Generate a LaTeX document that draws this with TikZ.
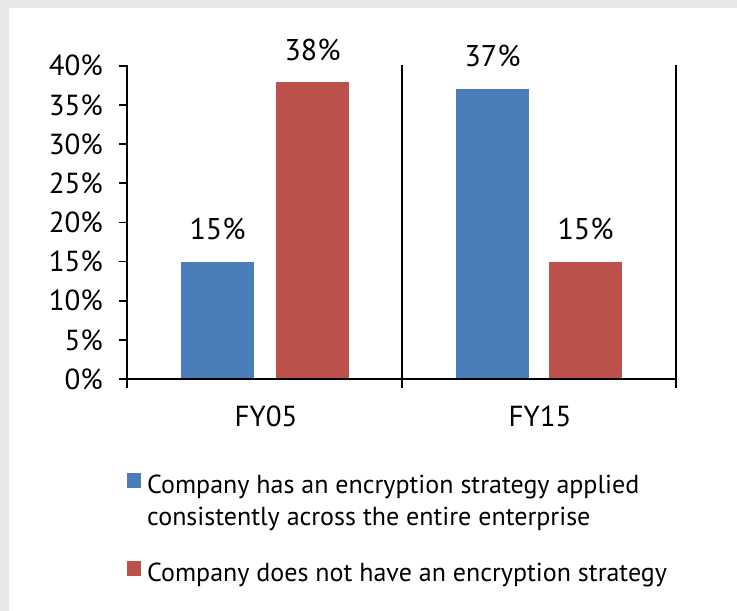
\documentclass[tikz,border=0pt]{standalone}
\usepackage{fontspec}
\setmainfont{PT Sans}
\definecolor{bgGray}{HTML}{E6E7E8}
\definecolor{barBlue}{HTML}{4A7EBB}
\definecolor{barRed}{HTML}{BC514B}
\begin{document}
\begin{tikzpicture}[x=1pt,y=-1pt,
  axisline/.style={line width=1.6pt,black},
  ticklbl/.style={anchor=east,inner sep=0pt,font=\fontsize{29}{31}\selectfont},
  vallbl/.style={anchor=center,inner sep=0pt,font=\fontsize{30}{32}\selectfont},
  catlbl/.style={anchor=center,inner sep=0pt,font=\fontsize{29}{31}\selectfont},
  legtxt/.style={anchor=base west,inner sep=0pt,align=left,font=\fontsize{26}{32}\selectfont},
  bluebar/.style={fill=barBlue},
  redbar/.style={fill=barRed}]
\useasboundingbox (0,0) rectangle (737,611);
\fill[bgGray] (0,0) rectangle (737,611);
\fill[white] (9,8) rectangle (737,611);
% bars (baseline y=379, 1% = 7.83)
\fill[bluebar] (181,379) rectangle (254,261.5);
\fill[redbar]  (276,379) rectangle (349,81.5);
\fill[bluebar] (456,379) rectangle (529,89.3);
\fill[redbar]  (549,379) rectangle (622,261.5);
% axes
\coordinate (top) at (127,65);
\coordinate (ob) at (127,388);
\coordinate (xl) at (122,379);
\coordinate (xr) at (676,379);
\coordinate (mid) at (402,388);
\coordinate (midtop) at (402,65);
\coordinate (rgt) at (676,388);
\coordinate (rgttop) at (676,65);
\draw[axisline] (top) -- (ob);
\draw[axisline] (xl) -- (xr);
\draw[axisline] (midtop) -- (mid);
\draw[axisline] (rgttop) -- (rgt);
\foreach \v [count=\i from 0] in {0,5,...,40}{
  \pgfmathsetmacro{\yy}{379-\i*39.15}
  \draw[axisline] (119,\yy) -- (127,\yy);
  \node[ticklbl] (t\i) at (103,\yy) {\v\%};
}
% value labels
\node[vallbl] (v1) at (217.5,228.5) {15\%};
\node[vallbl] (v2) at (312.5,49.5) {38\%};
\node[vallbl] (v3) at (492.5,55.5) {37\%};
\node[vallbl] (v4) at (585.5,228.5) {15\%};
% category labels
\node[catlbl] (c1) at (266,416) {FY05};
\node[catlbl] (c2) at (540,416) {FY15};
% legend
\fill[bluebar] (126.5,473) rectangle (141,487.5) coordinate (lb);
\fill[redbar]  (126.5,561) rectangle (141,575.5) coordinate (lr);
\node[legtxt] (l1) at (147,525) {Company has an encryption strategy applied\\consistently across the entire enterprise};
\node[legtxt] (l2) at (147,581) {Company does not have an encryption strategy};
\end{tikzpicture}
\end{document}
